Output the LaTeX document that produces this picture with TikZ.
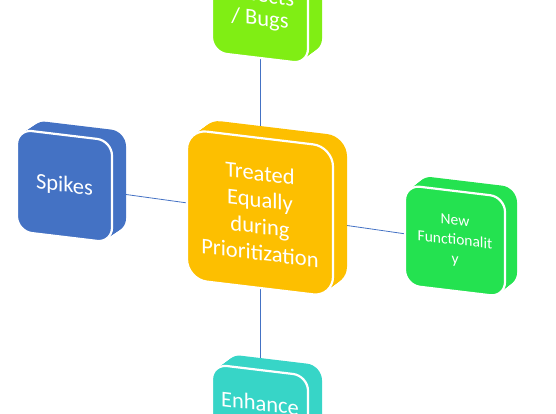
\documentclass[tikz,border=0pt]{standalone}
\usepackage{fontspec}
\setmainfont{Carlito}
\usetikzlibrary{backgrounds}
\definecolor{gold}{HTML}{FDBF00}
\definecolor{lime}{HTML}{80EE14}
\definecolor{ngreen}{HTML}{24E250}
\definecolor{teal}{HTML}{37D5C7}
\definecolor{sblue}{HTML}{4472C4}
\definecolor{linkblue}{HTML}{4472C4}
\newcommand\bigtxt{\fontsize{22.5}{26.5}\selectfont}
\newcommand\smalltxt{\fontsize{15.5}{19.5}\selectfont}
\tikzset{
  face/.style={rectangle, rounded corners=#1, draw=white, line width=2.2pt,
    text=white, align=center, transform shape, inner sep=0pt},
  backface/.style={rounded corners=#1},
  conn/.style={draw=linkblue, line width=0.8pt},
  slanted/.style={yslant=-0.12},
}
% extruded back of a box: half width, half height, radius, dx, dy, colour
\newcommand\extrude[6]{%
  \foreach \k in {0,0.1,...,1.01}{%
    \fill[#6, backface=#3] ({-#1+\k*#4},{-#2+\k*#5}) rectangle ({#1+\k*#4},{#2+\k*#5});
  }%
}
\begin{document}
\begin{tikzpicture}[x=1pt,y=-1pt]
\useasboundingbox (0,0) rectangle (556,414);

% centre box
\begin{scope}[shift={(260,213)}, slanted]
  \extrude{73}{75}{20pt}{14}{-12}{gold}
  \node[face=20pt, fill=gold, minimum width=146pt, minimum height=150pt, font=\bigtxt] (c) at (0,0)
    {Treated\\Equally\\during\\Prioritization};
\end{scope}

% top box
\begin{scope}[shift={(260,8)}, slanted]
  \extrude{48}{50}{15pt}{14}{-12}{lime}
  \node[face=15pt, fill=lime, minimum width=96pt, minimum height=100pt, font=\bigtxt] (t) at (0,0)
    {Defects\\[-3pt]/ Bugs};
\end{scope}

% left box
\begin{scope}[shift={(64.5,186)}, slanted]
  \extrude{47.5}{51}{15pt}{14}{-11}{sblue}
  \node[face=15pt, fill=sblue, minimum width=95pt, minimum height=102pt, font=\bigtxt] (l) at (0,0)
    {Spikes};
\end{scope}

% right box
\begin{scope}[shift={(455,241)}, slanted]
  \extrude{50}{50}{15pt}{12}{-11}{ngreen}
  \node[face=15pt, fill=ngreen, minimum width=100pt, minimum height=100pt, font=\smalltxt] (r) at (0,0)
    {New\\Functionalit\\y};
\end{scope}

% bottom box
\begin{scope}[shift={(260,420)}, slanted]
  \extrude{48}{50}{15pt}{14}{-12}{teal}
  \node[face=15pt, fill=teal, minimum width=96pt, minimum height=100pt] (b) at (0,0) {};
  \node[text=white, font=\bigtxt, transform shape, inner sep=0pt] (bt) at (0,-17) {Enhance};
\end{scope}

\begin{pgfonlayer}{background}
  \draw[conn] (c.center) -- (t.center);
  \draw[conn] (c.center) -- (l.center);
  \draw[conn] (c.center) -- (r.center);
  \draw[conn] (c.center) -- (b.center);
\end{pgfonlayer}
\end{tikzpicture}
\end{document}
